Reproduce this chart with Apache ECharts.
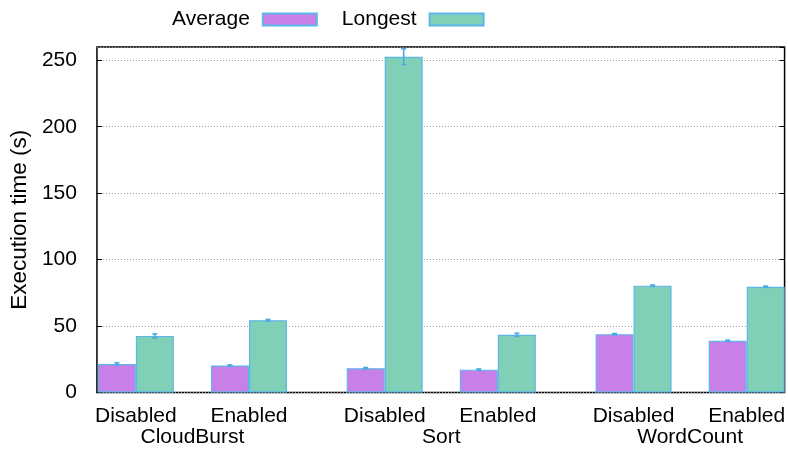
<!DOCTYPE html>
<html>
<head>
<meta charset="utf-8">
<script src="https://cdn.jsdelivr.net/npm/echarts@6/dist/echarts.min.js"></script>
<style>
html,body{margin:0;padding:0;background:#fff;}
#chart{width:788px;height:453px;}
</style>
</head>
<body>
<div id="chart"></div>
<script>
// ---- data ----
var groups = ['CloudBurst', 'Sort', 'WordCount'];
var conditions = ['Disabled', 'Enabled'];
var seriesNames = ['Average', 'Longest'];
// values ordered: CloudBurst D, CloudBurst E, Sort D, Sort E, WordCount D, WordCount E
var averageValues = [21.5, 20.3, 18.3, 17.2, 43.9, 38.9];
var averageErrors = [0.8, 0.5, 0.5, 0.5, 0.5, 0.5];
var longestValues = [42.6, 54.4, 252.7, 43.4, 80.4, 79.6];
var longestErrors = [1.5, 0.6, 6.0, 1.2, 0.5, 0.5];
var yTicks = [0, 50, 100, 150, 200, 250];

// ---- layout helpers (cluster positions on a value axis) ----
var groupGap = 0.2;
var positions = [];
var posLabel = {};
groups.forEach(function (g, gi) {
  conditions.forEach(function (c, ci) {
    var p = +(gi * (conditions.length + groupGap) + ci).toFixed(3);
    positions.push(p);
    posLabel[p] = c;
  });
});
var groupCenters = [];
var groupLabel = {};
groups.forEach(function (g, gi) {
  var p = +(gi * (conditions.length + groupGap) + (conditions.length - 1) / 2).toFixed(3);
  groupCenters.push(p);
  groupLabel[p] = g;
});

var BAR_W = 38;
var colors = ['#c97fe8', '#80d0b8'];
var borderColor = '#5cb6e8';
var errColor = '#4ba9e2';
var FONT = 'Liberation Sans, Arial, Helvetica, sans-serif';

function barData(vals) {
  return vals.map(function (v, i) { return [positions[i], v]; });
}
function errData(vals, errs) {
  return vals.map(function (v, i) { return [positions[i], v - errs[i], v + errs[i]]; });
}
function errRender(offset) {
  return function (params, api) {
    var lo = api.coord([api.value(0), api.value(1)]);
    var hi = api.coord([api.value(0), api.value(2)]);
    var x = lo[0] + offset;
    var cap = 2.5;
    var st = { stroke: errColor, lineWidth: 1.6 };
    return {
      type: 'group',
      children: [
        { type: 'line', shape: { x1: x, y1: lo[1], x2: x, y2: hi[1] }, style: st },
        { type: 'line', shape: { x1: x - cap, y1: lo[1], x2: x + cap, y2: lo[1] }, style: st },
        { type: 'line', shape: { x1: x - cap, y1: hi[1], x2: x + cap, y2: hi[1] }, style: st }
      ]
    };
  };
}

var chart = echarts.init(document.getElementById('chart'));
var xMin = -0.344, xMax = 5.735;
var option = {
  animation: false,
  textStyle: { fontFamily: FONT },
  legend: {
    data: seriesNames,
    left: 167,
    top: 4,
    align: 'right',
    icon: 'rect',
    itemWidth: 54,
    itemHeight: 12,
    itemGap: 24,
    textStyle: { fontSize: 21, color: '#000', fontFamily: FONT, padding: [0, 8, 0, 0] }
  },
  grid: {
    left: 93, top: 47, right: 2.5, bottom: 60.5,
    show: true, borderColor: '#000', borderWidth: 1.5, backgroundColor: 'transparent'
  },
  xAxis: [
    {
      type: 'value', min: xMin, max: xMax,
      axisLine: { show: false, onZero: false },
      axisTick: { show: false },
      splitLine: { show: false },
      axisLabel: {
        customValues: positions,
        formatter: function (v) { return posLabel[+v.toFixed(3)] || ''; },
        fontSize: 21, color: '#000', margin: 13, fontFamily: FONT
      }
    },
    {
      type: 'value', min: xMin, max: xMax, position: 'bottom',
      axisLine: { show: false, onZero: false },
      axisTick: { show: false },
      splitLine: { show: false },
      axisLabel: {
        customValues: groupCenters,
        formatter: function (v) { return groupLabel[+v.toFixed(3)] || ''; },
        fontSize: 21, color: '#000', margin: 34, fontFamily: FONT
      }
    }
  ],
  yAxis: [
    {
      type: 'value', min: 0, max: 260, interval: 50, position: 'left',
      name: 'Execution time (s)', nameLocation: 'middle', nameGap: 58,
      nameTextStyle: { fontSize: 22.5, color: '#000', fontFamily: FONT },
      axisLine: { show: false, onZero: false },
      axisTick: { show: true, inside: true, length: 5, lineStyle: { color: '#000' } },
      axisLabel: { fontSize: 21, color: '#000', margin: 20, showMaxLabel: false, fontFamily: FONT },
      splitLine: { show: true, lineStyle: { color: '#999', type: [1, 2], width: 1 } }
    },
    {
      type: 'value', min: 0, max: 260, interval: 50, position: 'right',
      axisLine: { show: false, onZero: false },
      axisTick: { show: true, inside: true, length: 5, lineStyle: { color: '#000' } },
      axisLabel: { show: false },
      splitLine: { show: false }
    }
  ],
  series: [
    {
      name: seriesNames[0], type: 'bar', barWidth: BAR_W, barGap: '0%',
      itemStyle: { color: colors[0], borderColor: borderColor, borderWidth: 1.2 },
      data: barData(averageValues), z: 2
    },
    {
      name: seriesNames[1], type: 'bar', barWidth: BAR_W, barGap: '0%',
      itemStyle: { color: colors[1], borderColor: borderColor, borderWidth: 1.2 },
      data: barData(longestValues), z: 2
    },
    {
      type: 'custom', renderItem: errRender(-BAR_W / 2),
      encode: { x: 0, y: [1, 2] }, data: errData(averageValues, averageErrors), z: 3, silent: true
    },
    {
      type: 'custom', renderItem: errRender(BAR_W / 2),
      encode: { x: 0, y: [1, 2] }, data: errData(longestValues, longestErrors), z: 3, silent: true
    }
  ]
};
chart.setOption(option);
</script>
</body>
</html>
